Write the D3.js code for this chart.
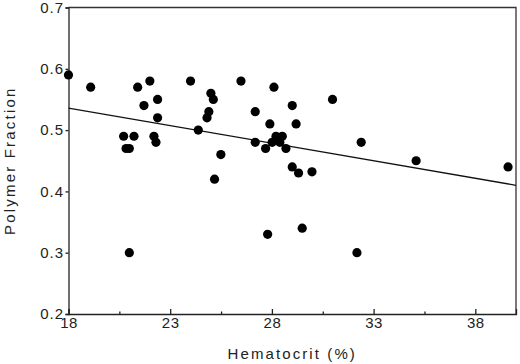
<!DOCTYPE html>
<html>
<head>
<meta charset="utf-8">
<script src="https://cdn.jsdelivr.net/npm/d3@7"></script>
<style>
  body { margin: 0; background: #fff; }
  text { font-family: 'Liberation Sans', Arial, sans-serif; fill: #222; }
</style>
</head>
<body>
<div id="svg-container"></div>
<script>
// Data (hematocrit %, polymer fraction)
const hematocrit = [
  18.0, 19.09, 21.4, 22.0, 22.38, 21.71, 22.38, 20.71, 21.22, 20.83, 20.99,
  22.2, 22.3, 24.0, 26.48, 28.1, 25.0, 25.12, 24.9, 24.81, 24.38, 27.18,
  29.0, 27.9, 29.19, 27.18, 27.69, 28.2, 28.51, 28.01, 28.39, 28.69, 25.49,
  25.18, 29.0, 29.31, 29.97, 30.98, 32.39, 35.09, 39.61, 20.99, 27.79,
  29.49, 32.18
]
const polymerFraction = [
  0.59, 0.57, 0.57, 0.58, 0.55, 0.54, 0.52, 0.49, 0.49, 0.47, 0.47,
  0.49, 0.48, 0.58, 0.58, 0.57, 0.56, 0.55, 0.53, 0.52, 0.5, 0.53,
  0.54, 0.51, 0.51, 0.48, 0.47, 0.49, 0.49, 0.48, 0.48, 0.47, 0.46,
  0.42, 0.44, 0.43, 0.432, 0.55, 0.48, 0.45, 0.44, 0.3, 0.33,
  0.34, 0.3
]
// regression line end points
const fitX = [18, 40]
const fitY = [0.536, 0.41]

const xTicks = [18, 23, 28, 33, 38]
const xMinorTicks = [20.5, 25.5, 30.5, 35.5]
const yTicks = [0.2, 0.3, 0.4, 0.5, 0.6, 0.7]

var svgWidth = 520,
  svgHeight = 364,
  margin = { top: 7.5, right: 4, bottom: 50, left: 68.5 }
var width = svgWidth - margin.left - margin.right,
  height = svgHeight - margin.top - margin.bottom

var svg = d3
  .select('#svg-container')
  .append('svg')
  .attr('width', svgWidth)
  .attr('height', svgHeight)

var g = svg
  .append('g')
  .attr('transform', 'translate(' + margin.left + ',' + margin.top + ')')

var xScale = d3.scaleLinear().domain([18, 40]).range([0, width])
var yScale = d3.scaleLinear().domain([0.2, 0.7]).range([height, 0])

// frame (top & right)
g.append('path')
  .attr('d', `M0,0H${width}V${height}`)
  .attr('fill', 'none')
  .attr('stroke', '#333')
  .attr('stroke-width', 1.3)

// x axis, ticks pointing into the plot
var xAxisG = g.append('g').attr('transform', `translate(0,${height})`)
xAxisG
  .call(d3.axisBottom(xScale).tickValues(xTicks).tickSize(-5).tickPadding(3))
  .call(a => a.selectAll('text').attr('font-size', 15).attr('letter-spacing', 0.5))
xAxisG
  .append('g')
  .call(d3.axisBottom(xScale).tickValues(xMinorTicks).tickSize(-2.5).tickFormat(''))
  .call(a => a.select('.domain').remove())
xAxisG.selectAll('path, line').attr('stroke', '#222').attr('stroke-width', 1.3)

// y axis
var yAxisG = g.append('g')
yAxisG
  .call(d3.axisLeft(yScale).tickValues(yTicks).tickSize(3).tickPadding(1.5).tickFormat(d3.format('.1f')))
  .call(a => a.selectAll('text').attr('font-size', 15).attr('letter-spacing', 1))
yAxisG.selectAll('path, line').attr('stroke', '#222').attr('stroke-width', 1.3)
svg.selectAll('.tick text').style('fill', '#222').attr('font-family', "'Liberation Sans', Arial, sans-serif")

// axis titles
g.append('text')
  .attr('x', width / 2)
  .attr('y', height + 45)
  .attr('text-anchor', 'middle')
  .attr('font-size', 15)
  .attr('letter-spacing', 2.1)
  .text('Hematocrit (%)')

g.append('text')
  .attr('transform', `translate(${-margin.left + 15}, ${height / 2}) rotate(-90)`)
  .attr('text-anchor', 'middle')
  .attr('font-size', 15)
  .attr('letter-spacing', 2.2)
  .text('Polymer Fraction')

// fitted line
const linegen = d3
  .line()
  .x(d => xScale(d[0]))
  .y(d => yScale(d[1]))
g.append('path')
  .datum(d3.zip(fitX, fitY))
  .attr('fill', 'none')
  .attr('stroke', '#111')
  .attr('stroke-width', 1.3)
  .attr('d', linegen)

// points
g.selectAll('circle')
  .data(d3.zip(hematocrit, polymerFraction))
  .join('circle')
  .attr('cx', d => xScale(d[0]))
  .attr('cy', d => yScale(d[1]))
  .attr('r', 4.6)
  .attr('fill', '#000')
</script>
</body>
</html>
